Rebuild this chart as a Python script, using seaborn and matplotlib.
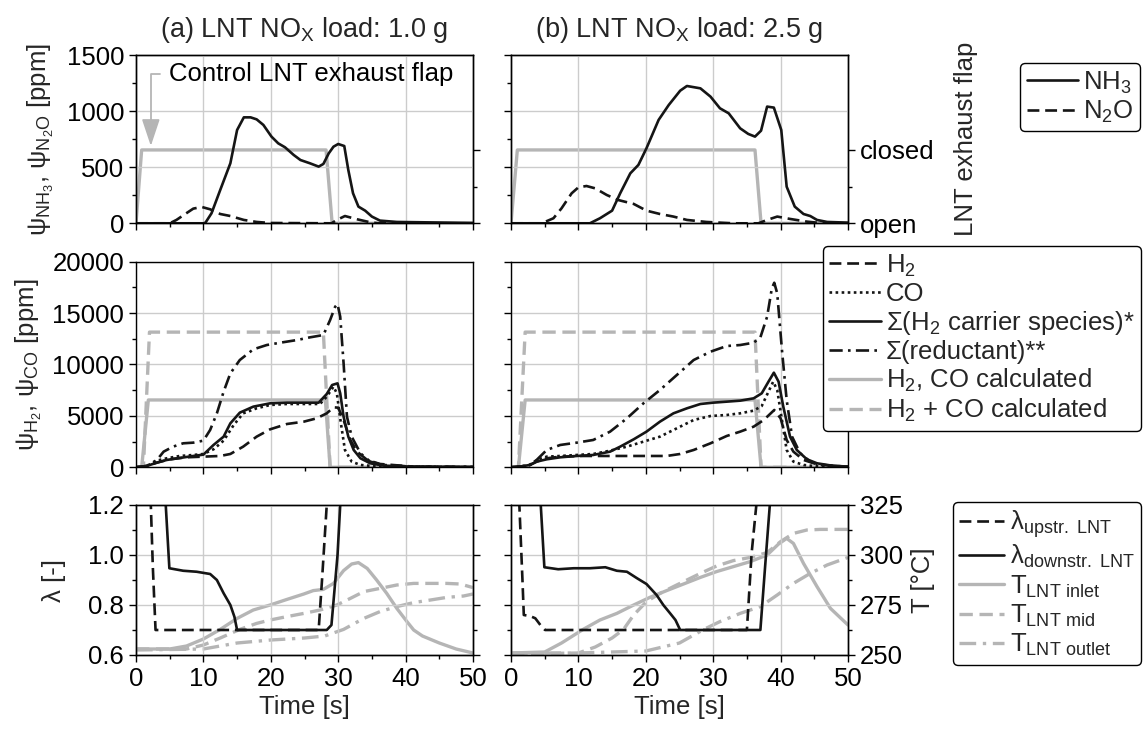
import matplotlib
matplotlib.use('Agg')
import matplotlib.pyplot as plt
import seaborn as sns
from matplotlib.ticker import MultipleLocator, FixedLocator, FormatStrFormatter
from matplotlib.lines import Line2D

# ---------------- data ----------------
time_ticks = [0, 10, 20, 30, 40, 50]

# (a) NOx load 1.0 g
t_nh3_a = [0, 10.0, 10.3, 11.2, 12.5, 14.0, 15.0, 16.0, 17.0, 17.9, 18.9, 20.1, 21.1, 22.1, 23.4, 24.4,
           25.8, 27.1, 27.8, 28.6, 29.3, 30.0, 30.9, 31.5, 32.2, 33.0, 34.0, 35.0, 36.2, 38.7, 50]
nh3_a = [0, 0, 5, 89, 298, 536, 833, 946, 946, 928, 878, 774, 714, 679, 610, 565,
         536, 506, 530, 625, 684, 708, 690, 476, 268, 149, 113, 60, 24, 12, 3]
t_n2o_a = [0, 5.0, 6.0, 7.3, 8.5, 9.75, 11.0, 12.5, 14.0, 16.0, 17.9, 19.9, 29.0, 29.8, 31.0, 32.8, 34.75, 36, 50]
n2o_a = [0, 0, 30, 83, 131, 146, 125, 83, 65, 30, 12, 3, 0, 30, 65, 36, 9, 0, 0]
t_flap_a = [0, 0.84, 28.2, 29.1, 50]
flap_a = [0, 1, 1, 0, 0]

t_calc_a = [0, 0.84, 1.83, 28.1, 28.8, 50]
calc_a = [0, 0, 6550, 6550, 0, 0]
t_sumcalc_a = [0, 1.1, 2.0, 27.8, 28.8, 50]
sumcalc_a = [0, 0, 13150, 13150, 0, 0]
t_red_a = [0, 1.6, 3.1, 4.1, 5.5, 7.0, 8.5, 10.0, 11.0, 12.0, 13.0, 14.0, 15.4, 17.4, 19.4, 21.4, 23.9, 25.8,
           27.8, 28.8, 29.55, 29.9, 30.3, 30.8, 31.3, 32.0, 33.3, 34.75, 36.7, 41.2, 50]
red_a = [0, 130, 713, 1523, 2009, 2334, 2398, 2593, 3630, 5250, 7357, 9140, 10436, 11473, 11894, 12121, 12381, 12640,
         12867, 14325, 15621, 15880, 14650, 10112, 4926, 2982, 1361, 551, 227, 65, 30]
t_h2c_a = [0, 1.6, 3.1, 4.55, 6.5, 8.5, 10.0, 11.5, 13.0, 14.0, 15.4, 17.4, 19.9, 22.4, 24.9, 27.1, 28.3, 29.1,
           29.9, 30.3, 30.8, 31.5, 32.3, 33.3, 34.75, 36.7, 41.2, 50]
h2c_a = [0, 130, 454, 713, 907, 1102, 1232, 2171, 2982, 4278, 5315, 5899, 6223, 6288, 6288, 6288, 7130, 8005,
         8167, 7195, 4926, 2982, 1685, 875, 389, 162, 65, 30]
t_co_a = [0, 1.6, 3.1, 4.55, 6.5, 8.5, 10.0, 11.5, 13.0, 14.5, 15.9, 17.9, 19.9, 22.4, 27.3, 28.3, 29.3, 29.8,
          30.4, 31.0, 32.0, 33.3, 36.2, 50]
co_a = [0, 130, 648, 875, 1102, 1199, 1296, 1750, 2593, 4116, 5250, 5737, 6061, 6158, 6158, 6871, 7843, 7195,
        4278, 1685, 551, 227, 65, 30]
t_h2_a = [0, 1.6, 3.1, 5.0, 7.5, 10.0, 12.5, 14.0, 15.9, 17.9, 19.9, 22.4, 24.9, 26.8, 28.3, 29.3, 30.0, 30.8,
          31.8, 32.8, 34.3, 36.2, 41.2, 50]
h2_a = [0, 130, 454, 778, 972, 1037, 1102, 1296, 2009, 2982, 3695, 4213, 4440, 4764, 5250, 5834, 5801, 4602,
        2658, 1523, 713, 324, 65, 20]

t_lup_a = [0, 2.0, 2.2, 2.5, 2.9, 27.1, 27.6, 28.3, 28.8, 50]
lup_a = [1.5, 1.4, 1.2, 0.95, 0.70, 0.70, 0.90, 1.2, 1.5, 1.5]
t_ldn_a = [0, 4.2, 4.95, 7.0, 9.0, 11.0, 12.0, 13.0, 14.0, 14.6, 15.0, 28.3, 29.0, 29.9, 30.3, 31.0, 50]
ldn_a = [1.5, 1.3, 0.947, 0.937, 0.933, 0.924, 0.90, 0.847, 0.80, 0.753, 0.70, 0.70, 0.72, 1.0, 1.2, 1.5, 1.5]
t_tin_a = [0, 5, 7.5, 10, 12.5, 15, 17.4, 19.9, 22.4, 24.9, 26.3, 27.8, 29.3, 30.8, 32, 33, 34.3, 35.7, 37.2,
           38.7, 40.2, 41.2, 42.5, 45, 47.5, 50]
tin_a = [253, 253, 254.5, 258, 262.8, 268.3, 272.5, 275, 277.8, 280.5, 282.2, 282.8, 285.8, 292.2, 295.5, 296.2,
         293.3, 287.5, 280.8, 273.3, 266.7, 262.5, 259.5, 256, 253, 251]
t_tmid_a = [0, 7.5, 10, 12.5, 15.4, 17.9, 19.9, 22.4, 24.9, 27.3, 29.8, 31.8, 33.8, 36.2, 38.7, 41.2, 43.7, 46.1, 48.1, 50]
tmid_a = [253, 253, 255, 258.5, 262.8, 265.8, 267.5, 269.2, 270.8, 272.5, 275, 278.3, 281.7, 283.3, 285, 285.8,
          285.8, 285.8, 285.5, 283.7]
t_tout_a = [0, 10, 15, 20, 25, 28, 30.8, 33.8, 36.2, 38.7, 41.2, 43.7, 46.1, 48.6, 50]
tout_a = [252.5, 253, 256, 257.5, 258.5, 259.5, 262.8, 268.3, 271.7, 274.2, 276.2, 277.5, 278.8, 279.5, 280.5]

# (b) NOx load 2.5 g
t_nh3_b = [0, 11.7, 13.2, 15.0, 16.2, 17.7, 18.9, 20.1, 21.9, 23.4, 25.1, 26.1, 28.1, 29.6, 31.0, 32.3, 34.0,
           35.2, 36.2, 37.1, 38.0, 39.0, 40.1, 40.9, 42.1, 43.4, 44.4, 45.4, 46.9, 50]
nh3_b = [0, 0, 45, 113, 268, 446, 521, 670, 923, 1056, 1184, 1226, 1205, 1131, 1027, 982, 848,
         798, 774, 827, 1042, 1033, 833, 327, 149, 83, 65, 30, 12, 6]
t_n2o_b = [0, 4.55, 6.3, 7.5, 9.0, 10.0, 11.2, 12.5, 14.2, 15.9, 18.2, 20.1, 22.1, 24.1, 26.1, 29.0, 33.0,
           36.7, 38.0, 39.5, 41.4, 43.9, 45.9, 50]
n2o_b = [0, 0, 45, 134, 268, 321, 333, 312, 253, 208, 173, 113, 83, 60, 30, 12, 0,
         0, 30, 60, 39, 15, 3, 0]
t_flap_b = [0, 0.94, 36.2, 37.1, 50]
flap_b = [0, 1, 1, 0, 0]

t_calc_b = [0, 1.1, 2.1, 36.2, 37.1, 50]
calc_b = [0, 0, 6550, 6550, 0, 0]
t_sumcalc_b = [0, 1.1, 2.1, 36.2, 37.1, 50]
sumcalc_b = [0, 0, 13150, 13150, 0, 0]
t_red_b = [0, 1.3, 2.8, 3.8, 5.3, 7.3, 9.75, 12.2, 14.7, 17.2, 19.65, 22.1, 24.6, 27.1, 29.6, 32.0, 34.0, 36.0,
           37.0, 38.0, 38.7, 39.06, 39.5, 40.2, 40.9, 41.7, 42.9, 44.4, 45.9, 50]
red_b = [0, 65, 227, 713, 1685, 2171, 2398, 2658, 3468, 4764, 6223, 7519, 8977, 10436, 11246, 11797, 11894, 12121,
         12640, 14650, 17404, 17955, 16918, 11408, 6547, 2982, 1361, 551, 227, 65]
t_h2c_b = [0, 1.3, 2.8, 3.8, 5.3, 7.3, 9.75, 12.2, 14.7, 16.2, 18.2, 20.1, 22.1, 24.1, 26.1, 28.1, 30.0, 32.0,
           34.0, 36.0, 37.2, 38.2, 39.0, 39.7, 40.4, 41.4, 42.4, 43.9, 45.4, 47.9, 50]
h2c_b = [0, 65, 227, 551, 778, 972, 1102, 1199, 1523, 2009, 2722, 3468, 4440, 5250, 5737, 6158, 6288, 6385,
         6482, 6709, 7195, 8329, 9204, 8329, 5899, 2982, 1685, 778, 389, 130, 65]
t_co_b = [0, 1.3, 2.8, 3.8, 5.3, 7.3, 9.75, 12.2, 14.7, 17.2, 19.65, 22.1, 24.6, 27.1, 29.6, 32.0, 34.0, 36.0,
          37.2, 38.2, 38.9, 39.5, 40.2, 40.9, 41.9, 43.4, 45.9, 50]
co_b = [0, 65, 227, 713, 1037, 1102, 1199, 1296, 1620, 2009, 2496, 2982, 3792, 4602, 4991, 5088, 5250, 5510,
        5963, 7357, 8329, 7519, 4602, 1685, 551, 227, 65, 30]
t_h2_b = [0, 1.3, 2.8, 3.8, 5.3, 7.3, 10.7, 14.7, 19.2, 23.1, 25.1, 27.1, 29.6, 32.0, 34.0, 36.0, 37.5, 39.06,
          40.0, 40.9, 41.9, 43.4, 45.4, 47.9, 50]
h2_b = [0, 65, 227, 551, 875, 1037, 1102, 1102, 1102, 1102, 1296, 1685, 2334, 3046, 3468, 3954, 4602, 5575,
        4764, 2658, 1523, 713, 292, 130, 65]

t_lup_b = [0, 1.0, 1.24, 1.7, 1.9, 2.8, 3.6, 4.55, 5.05, 35.0, 35.7, 36.4, 37, 50]
lup_b = [1.5, 1.4, 1.2, 0.9, 0.76, 0.756, 0.747, 0.713, 0.70, 0.70, 1.007, 1.2, 1.5, 1.5]
t_ldn_b = [0, 4.2, 4.95, 7, 9.3, 11.7, 14, 15.7, 17.2, 18.7, 20.1, 21.6, 22.6, 23.6, 24.4, 25.1, 37.0, 37.7,
           38.4, 39, 50]
ldn_b = [1.5, 1.3, 0.951, 0.943, 0.947, 0.947, 0.951, 0.937, 0.933, 0.907, 0.884, 0.84, 0.80, 0.767, 0.74, 0.70,
         0.70, 0.953, 1.2, 1.5, 1.5]
t_tin_b = [0, 5, 7.5, 10.7, 13.2, 15.7, 18.2, 20.6, 23.1, 25.6, 28.1, 30.5, 33, 35.5, 38, 39.7, 40.9, 41.9,
           43.4, 45.4, 47.4, 50]
tin_b = [251, 251.5, 256, 262.8, 267.5, 270.8, 275, 278.8, 282.2, 285.5, 288.8, 291.7, 294.2, 296.7, 300, 305.5,
         308.3, 305.8, 295.8, 284.2, 273.3, 265]
t_tmid_b = [0, 10, 12.5, 15, 16.7, 18.2, 20.1, 22.1, 24.1, 26.1, 28.1, 30.5, 33, 35.5, 38, 40, 41.9, 43.9, 45.9, 50]
tmid_b = [250.5, 251, 254, 258.5, 262.8, 270, 276.7, 280.8, 284.2, 287.5, 290.8, 294.5, 297.2, 298.8, 301.2,
          306.7, 310.8, 312.5, 312.8, 312.8]
t_tout_b = [0, 10, 20, 25, 28.6, 31, 34, 37, 39.5, 41.9, 44.4, 46.9, 50]
tout_b = [251, 251, 252, 256, 262.8, 266.7, 270.8, 274.2, 280, 285.8, 290.8, 295, 298.8]

titles = [r'(a) LNT NO$_{\rm X}$ load: 1.0 g', r'(b) LNT NO$_{\rm X}$ load: 2.5 g']

# ---------------- style ----------------
sns.set_style('ticks')
plt.rcParams['font.family'] = ['Liberation Sans', 'DejaVu Sans']
plt.rcParams['mathtext.fontset'] = 'custom'
plt.rcParams['mathtext.rm'] = 'Liberation Sans'
plt.rcParams['mathtext.it'] = 'Liberation Sans:italic'
plt.rcParams['mathtext.bf'] = 'Liberation Sans:bold'
plt.rcParams['mathtext.default'] = 'regular'

FS = 18.5
BLACK = '#151515'
GREY = '#b5b5b5'
GRIDC = '#cccccc'
LWB = 1.9
LWG = 2.4
DASH = (0, (4.5, 2.2))
DOT = (0, (1.0, 1.3))
DASHDOT = (0, (5, 2, 1, 2))
GDASH = (0, (4, 2))

fig = plt.figure(figsize=(11.43, 7.30), dpi=100)

W, H = 1143, 730
def rect(x0, x1, ytop, ybot):
    return [x0 / W, 1 - ybot / H, (x1 - x0) / W, (ybot - ytop) / H]

cols = [(136, 473), (511, 848)]
rows = [(55.3, 223.3), (261.7, 467.3), (505, 655)]

def draw(ax, t, v, color, ls, lw):
    sns.lineplot(x=t, y=v, ax=ax, color=color, linestyle=ls, linewidth=lw,
                 estimator=None, sort=False, legend=False)

def style_axis(ax):
    for s in ax.spines.values():
        s.set_color('black')
        s.set_linewidth(1.0)
    ax.tick_params(which='both', direction='out', labelsize=FS, colors='black', width=1.0)
    ax.tick_params(which='major', length=5)
    ax.tick_params(which='minor', length=3)

data = {
    0: dict(nh3=(t_nh3_a, nh3_a), n2o=(t_n2o_a, n2o_a), flap=(t_flap_a, flap_a),
            calc=(t_calc_a, calc_a), sumcalc=(t_sumcalc_a, sumcalc_a), red=(t_red_a, red_a),
            h2c=(t_h2c_a, h2c_a), co=(t_co_a, co_a), h2=(t_h2_a, h2_a),
            lup=(t_lup_a, lup_a), ldn=(t_ldn_a, ldn_a), tin=(t_tin_a, tin_a),
            tmid=(t_tmid_a, tmid_a), tout=(t_tout_a, tout_a)),
    1: dict(nh3=(t_nh3_b, nh3_b), n2o=(t_n2o_b, n2o_b), flap=(t_flap_b, flap_b),
            calc=(t_calc_b, calc_b), sumcalc=(t_sumcalc_b, sumcalc_b), red=(t_red_b, red_b),
            h2c=(t_h2c_b, h2c_b), co=(t_co_b, co_b), h2=(t_h2_b, h2_b),
            lup=(t_lup_b, lup_b), ldn=(t_ldn_b, ldn_b), tin=(t_tin_b, tin_b),
            tmid=(t_tmid_b, tmid_b), tout=(t_tout_b, tout_b)),
}

FLAP_LEVEL = 655.0

for c, (x0, x1) in enumerate(cols):
    d = data[c]
    # ---- top row: NH3 / N2O + flap ----
    ax = fig.add_axes(rect(x0, x1, *rows[0]))
    tw = ax.twinx()
    draw(tw, *d['flap'], GREY, '-', LWG)
    draw(ax, *d['n2o'], BLACK, DASH, LWB)
    draw(ax, *d['nh3'], BLACK, '-', LWB)
    ax.set_ylim(0, 1500)
    ax.yaxis.set_major_locator(MultipleLocator(500))
    ax.yaxis.set_minor_locator(MultipleLocator(250))
    tw.set_ylim(0, 1500 / FLAP_LEVEL)
    tw.yaxis.set_major_locator(FixedLocator([0, 1]))
    tw.yaxis.set_minor_locator(FixedLocator([0.5]))
    ax.set_zorder(tw.get_zorder() + 1)
    ax.patch.set_visible(False)
    style_axis(tw)
    if c == 1:
        tw.set_yticklabels(['open', 'closed'])
        tw.set_ylabel('LNT exhaust flap', fontsize=FS, labelpad=14)
    else:
        tw.set_yticklabels([])
        ax.set_ylabel(r'ψ$_{\rm NH_3}$, ψ$_{\rm N_2O}$ [ppm]', fontsize=FS, labelpad=8)
        ax.annotate('Control LNT exhaust flap', xy=(2.2, 690), xytext=(4.9, 1330),
                    fontsize=FS, ha='left', va='center', color='black',
                    arrowprops=dict(arrowstyle='-|>,head_length=0.9,head_width=0.3',
                                    color=GREY, lw=1.3, shrinkA=4, shrinkB=0,
                                    connectionstyle='angle,angleA=0,angleB=90,rad=0'))
    ax.set_title(titles[c], fontsize=FS + 1, pad=13)

    # ---- middle row: H2 / CO ----
    axm = fig.add_axes(rect(x0, x1, *rows[1]))
    draw(axm, *d['calc'], GREY, '-', LWG)
    draw(axm, *d['sumcalc'], GREY, GDASH, LWG)
    draw(axm, *d['h2'], BLACK, DASH, LWB)
    draw(axm, *d['co'], BLACK, DOT, LWB)
    draw(axm, *d['h2c'], BLACK, '-', LWB)
    draw(axm, *d['red'], BLACK, DASHDOT, LWB)
    axm.set_ylim(0, 20000)
    axm.yaxis.set_major_locator(MultipleLocator(5000))
    axm.yaxis.set_minor_locator(MultipleLocator(2500))
    if c == 0:
        axm.set_ylabel(r'ψ$_{\rm H_2}$, ψ$_{\rm CO}$ [ppm]', fontsize=FS, labelpad=6)

    # ---- bottom row: lambda + temperatures ----
    axb = fig.add_axes(rect(x0, x1, *rows[2]))
    twb = axb.twinx()
    draw(twb, *d['tout'], GREY, DASHDOT, LWG)
    draw(twb, *d['tmid'], GREY, GDASH, LWG)
    draw(twb, *d['tin'], GREY, '-', LWG)
    draw(axb, *d['lup'], BLACK, DASH, LWB)
    draw(axb, *d['ldn'], BLACK, '-', LWB)
    axb.set_ylim(0.6, 1.2)
    axb.yaxis.set_major_locator(MultipleLocator(0.2))
    axb.yaxis.set_minor_locator(MultipleLocator(0.1))
    twb.set_ylim(250, 325)
    twb.yaxis.set_major_locator(MultipleLocator(25))
    twb.yaxis.set_minor_locator(MultipleLocator(12.5))
    axb.set_zorder(twb.get_zorder() + 1)
    axb.patch.set_visible(False)
    style_axis(twb)
    if c == 1:
        twb.set_ylabel('T [°C]', fontsize=FS, labelpad=6)
    else:
        twb.set_yticklabels([])
        axb.set_ylabel('λ [-]', fontsize=FS, labelpad=16)
        axb.yaxis.set_major_formatter(FormatStrFormatter('%.1f'))
    axb.set_xlabel('Time [s]', fontsize=FS, labelpad=3)

    for a in (ax, axm, axb):
        a.set_xlim(0, 50)
        a.xaxis.set_major_locator(FixedLocator(time_ticks))
        a.xaxis.set_minor_locator(MultipleLocator(5))
        a.grid(True, which='major', color=GRIDC, linewidth=1.0)
        a.set_axisbelow(True)
        style_axis(a)
        if c == 1:
            a.tick_params(labelleft=False)
        if a is not axb:
            a.tick_params(labelbottom=False)
    for a in (tw, twb):
        a.grid(False)

# ---------------- legends ----------------
leg_kw = dict(fontsize=FS, frameon=True, fancybox=True, borderaxespad=0,
              handletextpad=0.2, borderpad=0.25, labelspacing=0.12, framealpha=1, edgecolor='black')

h1 = [Line2D([], [], color=BLACK, lw=LWB, ls='-'),
      Line2D([], [], color=BLACK, lw=LWB, ls=DASH)]
l1 = fig.legend(h1, [r'NH$_3$', r'N$_2$O'], loc='upper right', bbox_to_anchor=(1140 / W, 1 - 63 / H),
                handlelength=2.0, **leg_kw)

h2 = [Line2D([], [], color=BLACK, lw=LWB, ls=DASH),
      Line2D([], [], color=BLACK, lw=LWB, ls=DOT),
      Line2D([], [], color=BLACK, lw=LWB, ls='-'),
      Line2D([], [], color=BLACK, lw=LWB, ls=DASHDOT),
      Line2D([], [], color=GREY, lw=LWG, ls='-'),
      Line2D([], [], color=GREY, lw=LWG, ls=GDASH)]
lab2 = [r'H$_2$', 'CO', r'Σ(H$_2$ carrier species)*', 'Σ(reductant)**',
        r'H$_2$, CO calculated', r'H$_2$ + CO calculated']
l2 = fig.legend(h2, lab2, loc='upper left', bbox_to_anchor=(823 / W, 1 - 246 / H),
                handlelength=2.0, **leg_kw)

h3 = [Line2D([], [], color=BLACK, lw=LWB, ls=DASH),
      Line2D([], [], color=BLACK, lw=LWB, ls='-'),
      Line2D([], [], color=GREY, lw=LWG, ls='-'),
      Line2D([], [], color=GREY, lw=LWG, ls=GDASH),
      Line2D([], [], color=GREY, lw=LWG, ls=DASHDOT)]
lab3 = [r'λ$_{\rm upstr.\ LNT}$', r'λ$_{\rm downstr.\ LNT}$', r'T$_{\rm LNT\ inlet}$',
        r'T$_{\rm LNT\ mid}$', r'T$_{\rm LNT\ outlet}$']
l3 = fig.legend(h3, lab3, loc='upper left', bbox_to_anchor=(953 / W, 1 - 502 / H),
                handlelength=1.75, **leg_kw)
for lg in (l1, l2, l3):
    lg.get_frame().set_linewidth(1.0)
    lg.set_zorder(20)

fig.savefig('out.png', dpi=100)
